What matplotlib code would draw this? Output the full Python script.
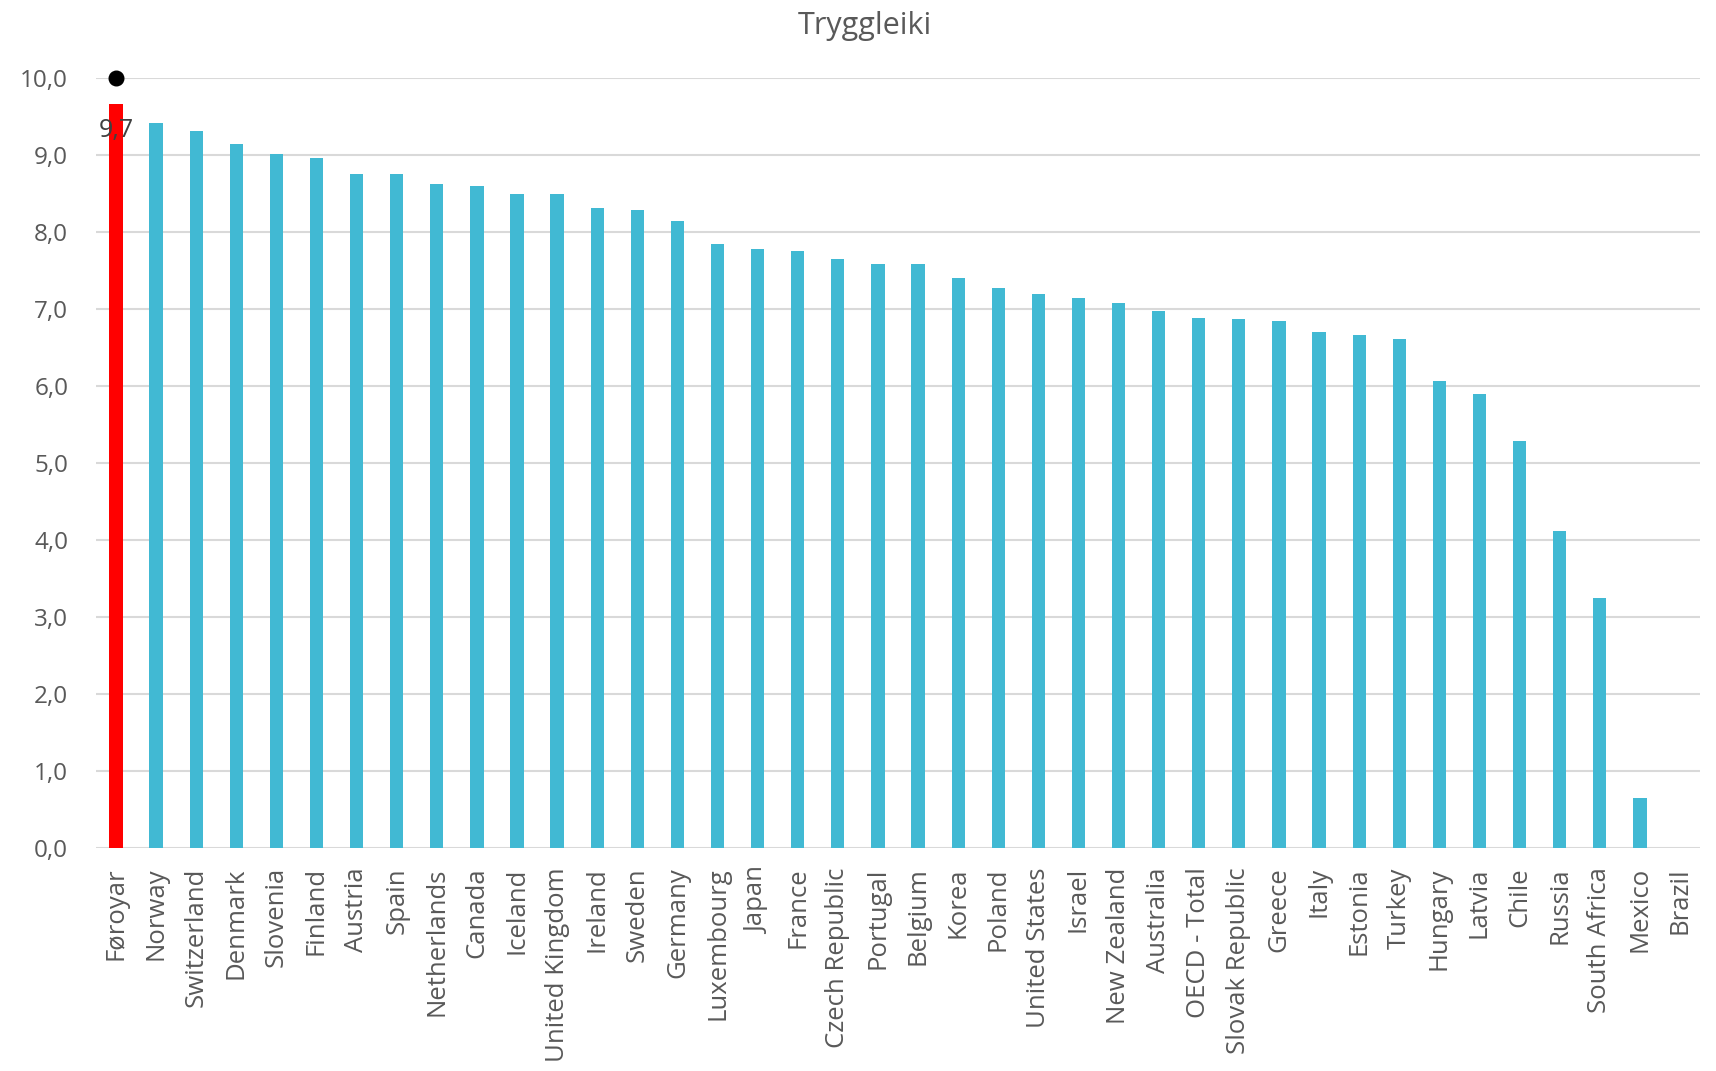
import matplotlib
matplotlib.use("Agg")
import matplotlib.pyplot as plt

categories = ["Føroyar", "Norway", "Switzerland", "Denmark", "Slovenia", "Finland",
              "Austria", "Spain", "Netherlands", "Canada", "Iceland", "United Kingdom",
              "Ireland", "Sweden", "Germany", "Luxembourg", "Japan", "France",
              "Czech Republic", "Portugal", "Belgium", "Korea", "Poland", "United States",
              "Israel", "New Zealand", "Australia", "OECD - Total", "Slovak Republic",
              "Greece", "Italy", "Estonia", "Turkey", "Hungary", "Latvia", "Chile",
              "Russia", "South Africa", "Mexico", "Brazil"]
values = [9.66, 9.42, 9.31, 9.15, 9.01, 8.97, 8.76, 8.76, 8.62, 8.60, 8.50, 8.49,
          8.31, 8.29, 8.14, 7.84, 7.78, 7.75, 7.65, 7.58, 7.58, 7.40, 7.27, 7.20,
          7.14, 7.08, 6.98, 6.88, 6.87, 6.84, 6.70, 6.66, 6.61, 6.06, 5.90, 5.29,
          4.12, 3.25, 0.65, 0.0]
highlight = "Føroyar"
highlight_label = "9,7"
marker_value = 10.0
yticks = [0, 1, 2, 3, 4, 5, 6, 7, 8, 9, 10]
ytick_labels = ["0,0", "1,0", "2,0", "3,0", "4,0", "5,0", "6,0", "7,0", "8,0", "9,0", "10,0"]
title = "Tryggleiki"

plt.rcParams['font.family'] = ['Open Sans', 'DejaVu Sans']

fig = plt.figure(figsize=(17.16, 10.71), dpi=100)
ax = fig.add_axes([0.0559, 0.2085, 0.9348, 0.7184])

x = list(range(len(categories)))
colors = ['#FF0000' if c == highlight else '#41B9D3' for c in categories]
ax.bar(x, values, width=0.33, color=colors, zorder=3)

hi = categories.index(highlight)
ax.plot([hi], [marker_value], 'o', color='black', markersize=10.5, zorder=5, clip_on=False)
ax.annotate(highlight_label, xy=(hi, values[hi]), xytext=(0, -10), textcoords='offset points',
            ha='center', va='top', fontsize=18, color='#404040', zorder=6)

ax.set_xlim(-0.5, len(categories) - 0.5)
ax.set_ylim(0, 10)
ax.set_yticks(yticks)
ax.set_yticklabels(ytick_labels, fontsize=17.5, color='#595959')
ax.set_xticks(x)
ax.set_xticklabels(categories, rotation=90, fontsize=18.5, color='#595959')
ax.tick_params(axis='y', length=0, pad=20)
ax.tick_params(axis='x', length=0, pad=14)
ax.grid(axis='y', color='#D9D9D9', linewidth=1.5, zorder=0)
for s in ax.spines.values():
    s.set_visible(False)

fig.text(0.504, 0.976, title, ha='center', va='center', fontsize=22, color='#595959')

fig.savefig("out.png", dpi=100)
